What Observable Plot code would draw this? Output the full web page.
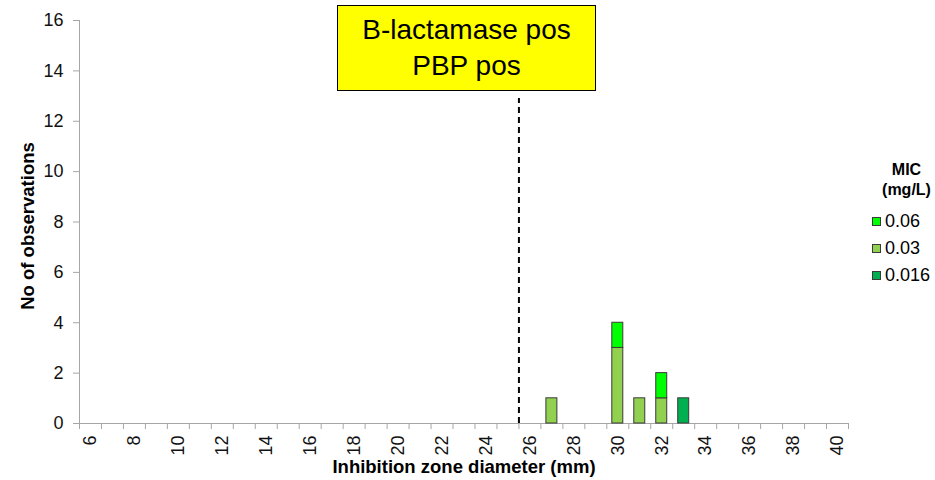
<!DOCTYPE html>
<html><head><meta charset="utf-8">
<script src="https://cdn.jsdelivr.net/npm/d3@7"></script>
<script src="https://cdn.jsdelivr.net/npm/@observablehq/plot@0.6"></script>
<style>
body{margin:0;background:#fff;font-family:"Liberation Sans",Arial,sans-serif;}
#wrap{position:relative;width:935px;height:480px;}
#box{position:absolute;left:337px;top:5px;width:257px;height:84px;background:#ffff00;border:1.5px solid #000;display:flex;flex-direction:column;justify-content:center;align-items:center;font-size:28px;line-height:36px;color:#000;}
#legend{position:absolute;left:868px;top:160px;width:67px;color:#000;}
#legend .t{font-weight:bold;font-size:16px;line-height:20px;text-align:center;padding-left:10px;}
#legend .i{display:flex;align-items:center;height:27px;font-size:18px;}
#legend .s{width:7px;height:7px;border:1px solid #3a3a3a;margin-left:4px;margin-right:4px;}
</style></head>
<body><div id="wrap"></div>
<script>
// ---- data ----
const xCategories = [6,7,8,9,10,11,12,13,14,15,16,17,18,19,20,21,22,23,24,25,26,27,28,29,30,31,32,33,34,35,36,37,38,39,40];
const xTickLabels = [6,8,10,12,14,16,18,20,22,24,26,28,30,32,34,36,38,40];
const yTicks = [0,2,4,6,8,10,12,14,16];
const micLevels = ["0.06","0.03","0.016"];
const micColors = ["#00ff00","#92d050","#00b050"];
const zoneValues = [27,30,31,32,33];
const count0_03 = [1,3,1,1,0];
const count0_016 = [0,0,0,0,1];
const count0_06 = [0,1,0,1,0];
const cutoffZone = 25.5;
const cutoffTop = 12.9;
const boxLines = ["B-lactamase pos","PBP pos"];
const xTitle = "Inhibition zone diameter (mm)";
const yTitle = "No of observations";
const legendTitle = ["MIC","(mg/L)"];

// ---- table (stack order bottom -> top) ----
const rows = [];
zoneValues.forEach((z,i)=>{
  if (count0_03[i]) rows.push({zone:z, mic:"0.03", count:count0_03[i]});
  if (count0_016[i]) rows.push({zone:z, mic:"0.016", count:count0_016[i]});
  if (count0_06[i]) rows.push({zone:z, mic:"0.06", count:count0_06[i]});
});
const xBoundaries = xCategories.map(c=>c-0.5).concat([xCategories[xCategories.length-1]+0.5]);
const axisGray = "#a6a6a6";

const chart = Plot.plot({
  width: 935, height: 480,
  marginLeft: 79, marginRight: 87, marginTop: 20, marginBottom: 57,
  x: {domain: [xBoundaries[0], xBoundaries[xBoundaries.length-1]]},
  y: {domain: [0,16]},
  color: {domain: micLevels, range: micColors},
  style: {fontFamily: "'Liberation Sans', Arial, sans-serif", fontSize: "18px", color: "#000", background: "#fff"},
  marks: [
    Plot.ruleY([0], {stroke: axisGray}),
    Plot.ruleX([xBoundaries[0]], {y1: 0, y2: 16, stroke: axisGray}),
    Plot.axisY({ticks: yTicks, tickSize: 6, tickFormat: () => "", stroke: axisGray, label: null}),
    Plot.axisY({ticks: yTicks, tickSize: 0, tickPadding: 16, fill: "#111", fontSize: 18, label: null}),
    Plot.axisX({ticks: xBoundaries, tickSize: 6, tickFormat: () => "", stroke: axisGray, label: null}),
    Plot.axisX({ticks: xTickLabels, tickSize: 0, tickPadding: 12, tickRotate: -90, fill: "#111", fontSize: 18, label: null}),
    Plot.rectY(rows, {x1: d => d.zone - 0.25, x2: d => d.zone + 0.25, y: "count", fill: "mic", stroke: "#3a3a3a", strokeWidth: 1}),
    Plot.ruleX([cutoffZone], {y1: 0, y2: cutoffTop, stroke: "#000", strokeWidth: 2, strokeDasharray: "6,4"}),
    Plot.text([xTitle], {text: d => d, frameAnchor: "bottom", textAnchor: "middle", lineAnchor: "middle", dy: 44, fontWeight: "bold", fontSize: 18.5, fill: "#000"}),
    Plot.text([yTitle], {text: d => d, frameAnchor: "left", textAnchor: "middle", lineAnchor: "middle", dx: -51, dy: 4, rotate: -90, fontWeight: "bold", fontSize: 18.5, fill: "#000"})
  ]
});
const wrap = document.getElementById("wrap");
wrap.appendChild(chart);

const box = document.createElement("div");
box.id = "box";
boxLines.forEach(t => { const d = document.createElement("div"); d.textContent = t; box.appendChild(d); });
wrap.appendChild(box);

const leg = document.createElement("div");
leg.id = "legend";
legendTitle.forEach(t => { const d = document.createElement("div"); d.className = "t"; d.textContent = t; leg.appendChild(d); });
const sp = document.createElement("div"); sp.style.height = "8px"; leg.appendChild(sp);
micLevels.forEach((m,i) => {
  const it = document.createElement("div"); it.className = "i";
  const s = document.createElement("div"); s.className = "s"; s.style.background = micColors[i];
  const l = document.createElement("span"); l.textContent = m;
  it.appendChild(s); it.appendChild(l); leg.appendChild(it);
});
wrap.appendChild(leg);
</script></body></html>
